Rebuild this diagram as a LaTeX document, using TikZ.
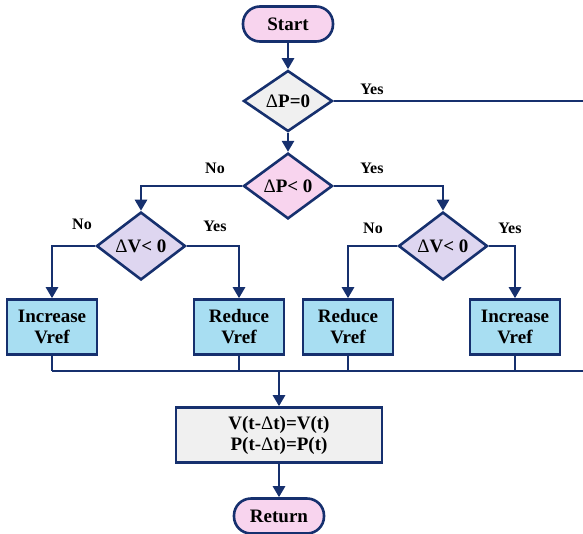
\documentclass[tikz,border=0pt]{standalone}
\usepackage{fontspec}
\setmainfont{Liberation Serif}
\usetikzlibrary{arrows.meta}
\usetikzlibrary{shapes.geometric}
\usetikzlibrary{positioning}

\definecolor{linec}{RGB}{22,48,110}
\definecolor{pinkc}{RGB}{248,212,238}
\definecolor{lavc}{RGB}{222,214,240}
\definecolor{bluec}{RGB}{168,222,242}
\definecolor{grayc}{RGB}{240,240,240}

\newcommand{\dlt}{{\mdseries Δ}}

\tikzset{
  base/.style={draw=linec, line width=2.6pt, font=\fontsize{19}{21}\selectfont\bfseries, align=center, inner sep=1pt},
  term/.style={base, fill=pinkc, rounded corners=17pt, minimum width=90pt, minimum height=35pt},
  decide/.style={base, diamond, minimum width=89pt, minimum height=55pt},
  action/.style={base, rectangle, fill=bluec, minimum width=90pt, minimum height=55pt},
  lbl/.style={font=\fontsize{16}{18}\selectfont\bfseries},
  wire/.style={draw=linec, line width=2.6pt},
  arr/.style={wire, -{Triangle[length=11pt,width=12pt]}}
}

\begin{document}
\begin{tikzpicture}[x=1pt, y=-1pt]
    \useasboundingbox (0,0) rectangle (583,533);

    % nodes
    \node[term] (start) at (288,24) {Start};
    \node[decide, fill=grayc] (dp0) at (288,101) {\dlt P=0};
    \node[decide, fill=pinkc] (dpneg) at (288,186) {\dlt P< 0};
    \node[decide, fill=lavc] (dvL) at (141,246) {\dlt V< 0};
    \node[decide, fill=lavc] (dvR) at (443,246) {\dlt V< 0};
    \node[action] (incL) at (52,327) {Increase\\Vref};
    \node[action] (redL) at (239,327) {Reduce\\Vref};
    \node[action] (redR) at (348,327) {Reduce\\Vref};
    \node[action] (incR) at (515,327) {Increase\\Vref};
    \node[base, fill=grayc, minimum width=206pt, minimum height=55pt] (upd) at (279,435)
      {V(t-\dlt t)=V(t)\\P(t-\dlt t)=P(t)};
    \node[term] (ret) at (279,516) {Return};

    % labels
    \node[lbl] (y0) at (372,89) {Yes};
    \node[lbl] (n1) at (215,168) {No};
    \node[lbl] (y1) at (372,168) {Yes};
    \node[lbl] (n2) at (82,224) {No};
    \node[lbl] (y2) at (215,226) {Yes};
    \node[lbl] (n3) at (373,228) {No};
    \node[lbl] (y3) at (510,228) {Yes};

    \coordinate (exitP) at (583,101);
    \coordinate (busL) at (52,371);
    \coordinate (busR) at (583,371);

    % connectors
    \draw[arr] (start) -- (dp0);
    \draw[wire] (dp0.east) -- (exitP);
    \draw[arr] (dp0) -- (dpneg);
    \draw[arr] (dpneg.west) -| (dvL.north);
    \draw[arr] (dpneg.east) -| (dvR.north);
    \draw[arr] (dvL.west) -| (incL.north);
    \draw[arr] (dvL.east) -| (redL.north);
    \draw[arr] (dvR.west) -| (redR.north);
    \draw[arr] (dvR.east) -| (incR.north);
    \foreach \b in {incL, redL, redR, incR} {
      \draw[wire] (\b.south) -- (\b.south |- busL);
    }
    \draw[wire] (busL) -- (busR);
    \draw[arr] (upd.north |- busL) -- (upd.north);
    \draw[arr] (upd) -- (ret);

  \end{tikzpicture}
\end{document}
